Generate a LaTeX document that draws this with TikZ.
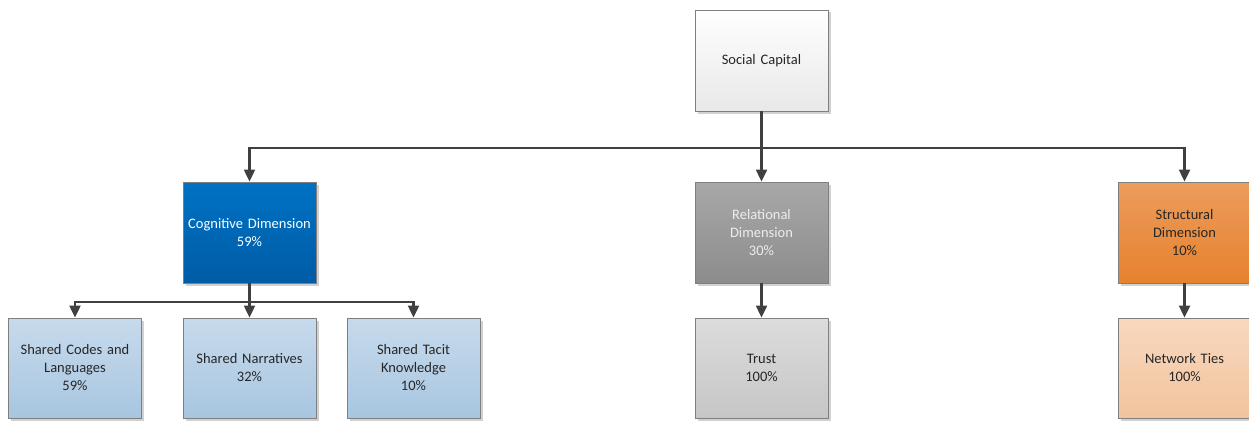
\documentclass[tikz,border=0pt]{standalone}
\usepackage{fontspec}
\setmainfont{Carlito}
\usetikzlibrary{arrows.meta,shadows}

\definecolor{edgegray}{HTML}{404040}
\definecolor{framegray}{HTML}{7F7F7F}

\tikzset{
  box/.style={draw=framegray, line width=0.9pt, minimum width=133pt, minimum height=101pt,
    align=center, inner sep=2pt, text width=125pt,
    font=\fontsize{14.5}{18}\selectfont, text=black!85,
    drop shadow={shadow xshift=2.5pt, shadow yshift=-2.5pt, opacity=0.18, fill=black}},
  leaf/.style={box, minimum height=100pt},
  rootbox/.style={box, top color=white, bottom color=black!9},
  cogbox/.style={box, top color={rgb,255:red,0;green,114;blue,196}, bottom color={rgb,255:red,0;green,92;blue,166}, text=white},
  relbox/.style={box, top color={rgb,255:red,168;green,168;blue,168}, bottom color={rgb,255:red,140;green,140;blue,140}, text=black!7},
  strbox/.style={box, top color={rgb,255:red,236;green,156;blue,92}, bottom color={rgb,255:red,230;green,130;blue,46}},
  bluebox/.style={leaf, top color={rgb,255:red,199;green,218;blue,236}, bottom color={rgb,255:red,168;green,198;blue,224}},
  graybox/.style={leaf, top color={rgb,255:red,220;green,220;blue,220}, bottom color={rgb,255:red,198;green,198;blue,198}},
  peachbox/.style={leaf, top color={rgb,255:red,248;green,216;blue,190}, bottom color={rgb,255:red,242;green,196;blue,158}},
  conn/.style={draw=edgegray, line width=2.2pt},
  arr/.style={conn, -{Triangle[length=12pt,width=11pt]}}
}

\begin{document}
\begin{tikzpicture}[x=1pt, y=-1pt]
  \useasboundingbox (0,0) rectangle (1249,420);

  % top level
  \node[rootbox] (sc) at (761.5,60.5) {Social Capital};

  % dimensions
  \node[cogbox] (cog) at (249.5,232.5) {Cognitive Dimension\\59\%};
  \node[relbox] (rel) at (761.5,232.5) {Relational\\Dimension\\30\%};
  \node[strbox] (str) at (1184.5,232.5) {Structural\\Dimension\\10\%};

  % components
  \node[bluebox] (codes) at (75,368) {Shared Codes and\\Languages\\59\%};
  \node[bluebox] (narr) at (249.5,368) {Shared Narratives\\32\%};
  \node[bluebox] (tacit) at (413.5,368) {Shared Tacit\\Knowledge\\10\%};
  \node[graybox] (trust) at (761.5,368) {Trust\\100\%};
  \node[peachbox] (ties) at (1184.5,368) {Network Ties\\100\%};

  % bus lines
  \coordinate (busA) at (761.5,148);
  \coordinate (busB) at (249.5,302);

  \draw[arr] (sc.south) -- (rel.north);
  \draw[arr] (busA) -| (cog.north);
  \draw[arr] (busA) -| (str.north);

  \draw[arr] (cog.south) -- (narr.north);
  \draw[arr] (busB) -| (codes.north);
  \draw[arr] (busB) -| (tacit.north);

  \draw[arr] (rel.south) -- (trust.north);
  \draw[arr] (str.south) -- (ties.north);
\end{tikzpicture}
\end{document}
